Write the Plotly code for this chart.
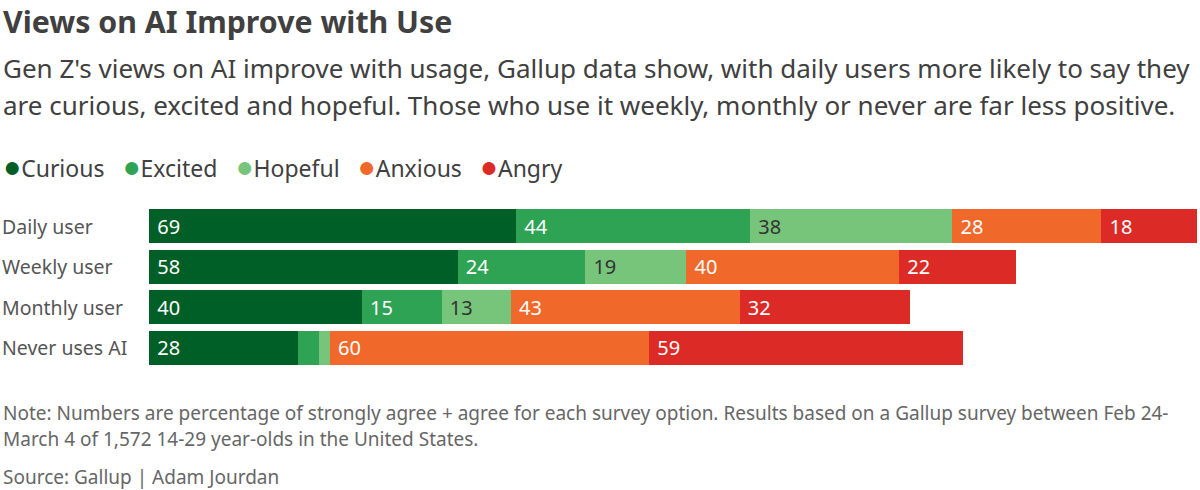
import plotly.graph_objects as go

categories = ["Daily user", "Weekly user", "Monthly user", "Never uses AI"]
series_names = ["Curious", "Excited", "Hopeful", "Anxious", "Angry"]
curious = [69, 58, 40, 28]
excited = [44, 24, 15, 4]
hopeful = [38, 19, 13, 2]
anxious = [28, 40, 43, 60]
angry = [18, 22, 32, 59]

series_values = [curious, excited, hopeful, anxious, angry]
colors = ["#005f27", "#2ea354", "#76c57b", "#f0692a", "#dc2a27"]
label_colors = ["#ffffff", "#ffffff", "#333333", "#ffffff", "#ffffff"]

FONT = "Noto Sans"

fig = go.Figure()
for name, vals, col, lcol in zip(series_names, series_values, colors, label_colors):
    fig.add_trace(go.Bar(
        y=categories, x=vals, orientation="h", name=name,
        marker=dict(color=col, line=dict(width=0)),
        text=["\u00a0" + str(v) if v >= 5 else "" for v in vals],
        textposition="inside", insidetextanchor="start",
        textfont=dict(family=FONT, size=20, color=lcol),
        constraintext="none",
        showlegend=False, hoverinfo="x+name",
    ))

totals = [sum(s[i] for s in series_values) for i in range(len(categories))]

annotations = []
for c in categories:
    annotations.append(dict(
        x=-149 / 1048, xref="paper", y=c, yref="y", xanchor="left", yanchor="middle",
        text=c, showarrow=False, font=dict(family=FONT, size=19.5, color="#555555"),
    ))

legend_html = "&nbsp;&nbsp;&nbsp;".join(
    f'<span style="color:{col};font-size:30px">●</span>{name}' for name, col in zip(series_names, colors)
)

fig.update_layout(
    width=1200, height=490,
    margin=dict(l=149, r=3, t=206, b=122),
    paper_bgcolor="white", plot_bgcolor="white",
    barmode="stack", bargap=0.165,
    xaxis=dict(range=[0, max(totals)], visible=False, fixedrange=True),
    yaxis=dict(autorange="reversed", showticklabels=False, showgrid=False,
               zeroline=False, fixedrange=True),
    annotations=annotations,
    showlegend=False,
)

def py(pix):
    top, bottom = 206, 490 - 122
    return (bottom - pix) / (bottom - top)

def txt(text, y, size, color, bold=False):
    fig.add_annotation(
        x=0, xref="paper", xshift=-149 + 1, y=py(y), yref="paper", yanchor="middle",
        xanchor="left", text=(f"<b>{text}</b>" if bold else text), showarrow=False,
        font=dict(family=FONT, size=size, color=color), align="left",
    )

txt("Views on AI Improve with Use", 22, 30.3, "#404040", bold=True)
txt("Gen Z's views on AI improve with usage, Gallup data show, with daily users more likely to say they", 68, 26, "#404040")
txt("are curious, excited and hopeful. Those who use it weekly, monthly or never are far less positive.", 105, 26, "#404040")
txt(legend_html, 165, 23, "#404040")
txt("Note: Numbers are percentage of strongly agree + agree for each survey option. Results based on a Gallup survey between Feb 24-", 413, 19, "#666666")
txt("March 4 of 1,572 14-29 year-olds in the United States.", 439, 19, "#666666")
txt("Source: Gallup | Adam Jourdan", 477, 19, "#666666")

fig.write_html("out.html", config={"displayModeBar": False},
               post_script="document.body.style.margin='0px';")
